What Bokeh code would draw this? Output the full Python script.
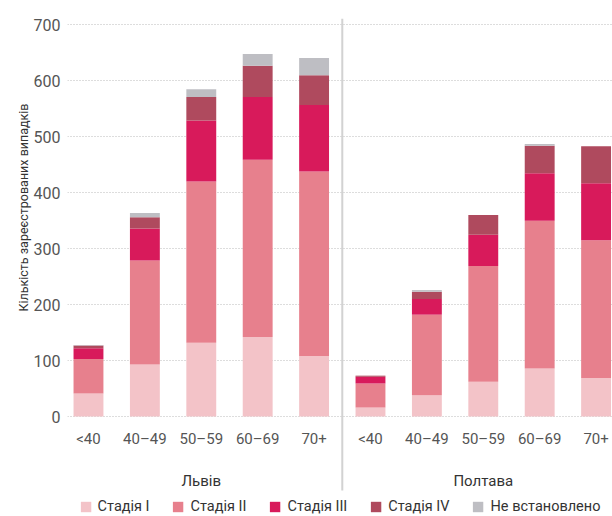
from bokeh.plotting import figure
from bokeh.models import (ColumnDataSource, FixedTicker, LinearAxis, Legend, LegendItem,
                          Range1d, Title)
from bokeh.embed import file_html
from bokeh.resources import INLINE

# ---- data ----
age_groups = ["<40", "40–49", "50–59", "60–69", "70+"]
regions = ["Львів", "Полтава"]
stages = ["Стадія I", "Стадія II", "Стадія III", "Стадія IV", "Не встановлено"]

lviv_stage1 = [41, 93, 132, 142, 108]
lviv_stage2 = [62, 186, 288, 317, 330]
lviv_stage3 = [19, 57, 109, 112, 119]
lviv_stage4 = [5, 20, 42, 56, 53]
lviv_unknown = [1, 8, 14, 21, 31]

poltava_stage1 = [16, 38, 62, 86, 69]
poltava_stage2 = [43, 144, 207, 264, 246]
poltava_stage3 = [12, 28, 56, 85, 102]
poltava_stage4 = [2, 13, 35, 49, 66]
poltava_unknown = [0, 3, 0, 3, 0]

y_ticks = [0, 100, 200, 300, 400, 500, 600, 700]

colors = ["#F3C3C8", "#E7808D", "#D81A5B", "#AF4A5E", "#BEBEC3"]
FONT = "Roboto"

# ---- layout constants ----
FRAME_H = 516
ZERO_PX = 416          # pixel row of value 0 inside the frame
SCALE = 0.5594         # px per unit
DIVIDER_BOTTOM_PX = 490
y_end = ZERO_PX / SCALE
y_start = -(FRAME_H - ZERO_PX) / SCALE
divider_bottom = -(DIVIDER_BOTTOM_PX - ZERO_PX) / SCALE

# ---- source ----
n = len(age_groups)
xs = list(range(2 * n))
keys = ["s1", "s2", "s3", "s4", "na"]
source = ColumnDataSource(dict(
    x=xs,
    s1=lviv_stage1 + poltava_stage1,
    s2=lviv_stage2 + poltava_stage2,
    s3=lviv_stage3 + poltava_stage3,
    s4=lviv_stage4 + poltava_stage4,
    na=lviv_unknown + poltava_unknown,
))

p = figure(frame_width=545, frame_height=FRAME_H, output_backend="svg",
           toolbar_location=None,
           x_range=Range1d(-0.372, 9.291), y_range=Range1d(y_start, y_end),
           min_border_left=67, min_border_right=0, min_border_top=0,
           min_border_bottom=0)
p.outline_line_color = None
p.background_fill_color = "white"
p.border_fill_color = "white"

# divider between the two regions
divider = n - 0.5
p.segment(x0=[divider], y0=[divider_bottom], x1=[divider], y1=[711],
          line_color="#d2d2d2", line_width=2)

renderers = p.vbar_stack(keys, x="x", width=0.53, color=colors, line_color=None,
                         source=source)

# ---- y axis ----
ya = p.yaxis[0]
ya.ticker = FixedTicker(ticks=y_ticks)
ya.axis_line_color = None
ya.major_tick_line_color = None
ya.minor_tick_line_color = None
ya.major_label_standoff = 1
ya.major_label_text_font = FONT
ya.major_label_text_font_size = "16px"
ya.major_label_text_color = "#555555"

p.add_layout(Title(text="Кількість зареєстрованих випадків", align="right", offset=103,
                   text_font=FONT, text_font_size="12.5px", text_font_style="normal",
                   text_color="#333333", standoff=0), "left")

p.xgrid.visible = False
p.ygrid.grid_line_color = "#bbbbbb"
p.ygrid.grid_line_dash = "1 2"
p.ygrid.grid_line_width = 1

# ---- x axis: age groups ----
xa = p.xaxis[0]
xa.fixed_location = 0
xa.ticker = FixedTicker(ticks=xs)
xa.major_label_overrides = {i: lab for i, lab in enumerate(age_groups + age_groups)}
xa.axis_line_color = None
xa.major_tick_line_color = None
xa.minor_tick_line_color = None
xa.major_label_standoff = 7
xa.major_label_text_font = FONT
xa.major_label_text_font_size = "15px"
xa.major_label_text_color = "#555555"

# ---- x axis: regions ----
centers = [(n - 1) / 2, n + (n - 1) / 2]
ga = LinearAxis(ticker=FixedTicker(ticks=centers), fixed_location=0)
ga.major_label_overrides = {c: r for c, r in zip(centers, regions)}
ga.axis_line_color = None
ga.major_tick_line_color = None
ga.minor_tick_line_color = None
ga.major_label_standoff = 49
ga.major_label_text_font = FONT
ga.major_label_text_font_size = "15px"
ga.major_label_text_color = "#333333"
p.add_layout(ga, "below")

# ---- legend ----
legend = Legend(items=[LegendItem(label=s, renderers=[r]) for s, r in zip(stages, renderers)],
                orientation="horizontal", location="bottom_center")
legend.border_line_color = None
legend.background_fill_alpha = 0
legend.glyph_width = 13
legend.glyph_height = 13
legend.label_standoff = 6
legend.spacing = 22
legend.padding = 0
legend.margin = 1
legend.label_text_font = FONT
legend.label_text_font_size = "14.5px"
legend.label_text_color = "#333333"
legend.label_height = 16
p.add_layout(legend, "center")

open("out.html", "w").write(file_html(p, INLINE))
